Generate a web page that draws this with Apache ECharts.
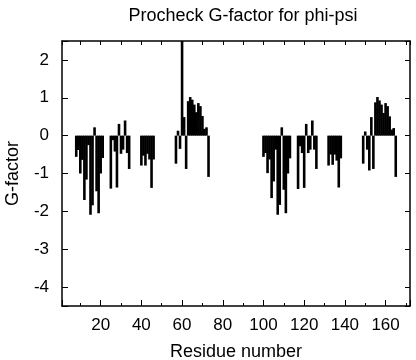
<!DOCTYPE html>
<html><head><meta charset="utf-8">
<script src="https://cdn.jsdelivr.net/npm/echarts@6/dist/echarts.min.js"></script>
<style>html,body{margin:0;padding:0;background:#fff}#c{width:416px;height:360px}</style>
</head><body><div id="c"></div>
<script>
// Residue numbers and their phi-psi G-factor values
const residues = [
  8,9,10,11,12,13,14,15,16,17,18,19,20,21,
  25,26,27,28,29,30,31,32,33,34,
  40,41,42,43,44,45,46,
  57,58,59,60,61,62,63,64,65,66,67,68,69,70,71,72,73,
  100,101,102,103,104,105,106,107,108,109,110,111,112,113,
  117,118,119,120,121,122,123,124,125,126,
  132,133,134,135,136,137,138,
  149,150,151,152,153,154,155,156,157,158,159,160,161,162,163,164,165
];
const gFactor = [
  -0.56,-0.38,-1.00,-0.64,-1.70,-1.16,-0.25,-2.09,-1.84,0.22,-1.47,-2.05,-1.00,-0.59,
  -1.40,-0.12,-0.42,-1.37,0.31,-0.48,-0.37,0.40,-0.46,-0.88,
  -0.79,-0.53,-0.79,-0.48,-0.63,-1.38,-0.63,
  -0.74,0.13,-0.35,2.50,0.49,-0.88,0.91,1.02,0.95,0.82,0.62,0.86,0.78,0.52,0.18,0.22,-1.09,
  -0.56,-0.46,-0.99,-0.63,-1.65,-1.21,-0.37,-2.09,-1.83,0.22,-1.43,-2.05,-1.00,-0.60,
  -1.41,-0.28,-0.46,-1.38,0.31,-0.46,-0.37,0.40,-0.37,-0.88,
  -0.79,-0.50,-0.77,-0.50,-0.66,-1.37,-0.60,
  -0.74,0.11,-0.37,-0.92,0.49,-0.88,0.88,1.02,0.93,0.82,0.60,0.86,0.78,0.51,0.16,0.20,-1.09
];
const xRange = [1, 172];
const yRange = [-4.5, 2.5];

const FONT = '"Liberation Sans", Arial, Helvetica, sans-serif';
const chart = echarts.init(document.getElementById('c'), null, {renderer: 'canvas'});
const axisLine = {show: true, onZero: false, lineStyle: {color: '#000', width: 1.5}};
const xCommon = {
  type: 'value', min: xRange[0], max: xRange[1], splitNumber: 8,
  axisLine: axisLine, splitLine: {show: false}
};
const yCommon = {
  type: 'value', min: yRange[0], max: yRange[1], splitNumber: 7,
  axisLine: axisLine, splitLine: {show: false}
};
chart.setOption({
  animation: false,
  backgroundColor: '#fff',
  title: {
    text: 'Procheck G-factor for phi-psi', left: 238, top: 2, textAlign: 'center',
    textStyle: {fontFamily: FONT, fontSize: 18, fontWeight: 'normal', color: '#000'}
  },
  grid: {left: 62, right: 6, top: 41, bottom: 54, containLabel: false, outerBoundsMode: 'none'},
  xAxis: [
    Object.assign({}, xCommon, {
      position: 'bottom',
      name: 'Residue number', nameLocation: 'middle', nameGap: 37,
      nameTextStyle: {fontFamily: FONT, fontSize: 18, color: '#000'},
      axisTick: {show: true, inside: true, length: 6, lineStyle: {color: '#000', width: 1}},
      minorTick: {show: true, splitNumber: 2, length: 3, lineStyle: {color: '#000', width: 1}},
      axisLabel: {
        fontFamily: FONT, fontSize: 17, color: '#000', margin: 11,
        formatter: v => (v % 20 === 0 ? String(v) : '')
      }
    }),
    Object.assign({}, xCommon, {
      position: 'top',
      axisTick: {show: true, inside: true, length: 4, lineStyle: {color: '#000', width: 1}},
      minorTick: {show: true, splitNumber: 2, length: 4, lineStyle: {color: '#000', width: 1}},
      axisLabel: {show: false}
    })
  ],
  yAxis: [
    Object.assign({}, yCommon, {
      position: 'left',
      name: 'G-factor', nameLocation: 'middle', nameGap: 40,
      nameTextStyle: {fontFamily: FONT, fontSize: 18, color: '#000'},
      axisTick: {show: true, inside: true, length: 6, lineStyle: {color: '#000', width: 1}},
      axisLabel: {
        fontFamily: FONT, fontSize: 17, color: '#000', margin: 13,
        formatter: v => (Number.isInteger(v) ? String(v) : '')
      }
    }),
    Object.assign({}, yCommon, {
      position: 'right',
      axisTick: {show: true, inside: true, length: 5, lineStyle: {color: '#000', width: 1}},
      axisLabel: {show: false}
    })
  ],
  series: [{
    type: 'bar',
    xAxisIndex: 0, yAxisIndex: 0,
    barWidth: 2.6,
    clip: true,
    itemStyle: {color: '#000'},
    data: residues.map((r, i) => [r, gFactor[i]])
  }]
});
</script>
</body></html>
